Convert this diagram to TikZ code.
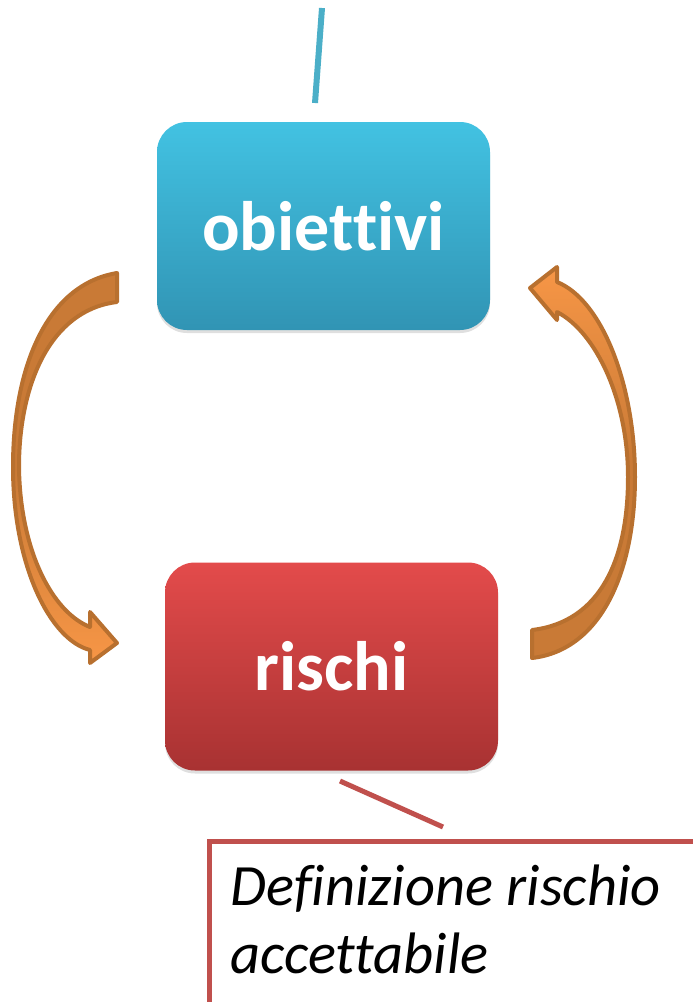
\documentclass[tikz,border=0pt]{standalone}
\usepackage{fontspec}
\setmainfont{Carlito}[Ligatures={NoCommon}]
\usetikzlibrary{shadows}
\definecolor{bluetop}{HTML}{42C2E2}
\definecolor{bluebot}{HTML}{3194B4}
\definecolor{redtop}{HTML}{E34B4B}
\definecolor{redbot}{HTML}{A83232}
\definecolor{linkblue}{HTML}{4BAFC8}
\definecolor{linkred}{HTML}{C0504D}
\definecolor{arrdark}{HTML}{C97A36}
\definecolor{arrlight}{HTML}{F79646}
\definecolor{arredge}{HTML}{B8702F}
\tikzset{
  mainbox/.style={rounded corners=30pt, minimum width=333pt, minimum height=208pt,
    text=white, font=\fontsize{70}{80}\selectfont\bfseries, inner sep=0pt,
    drop shadow={shadow xshift=0pt, shadow yshift=-3pt, opacity=0.25}},
  bluebox/.style={mainbox, top color=bluetop, bottom color=bluebot},
  redbox/.style={mainbox, top color=redtop, bottom color=redbot},
  calloutbox/.style={draw=linkred, line width=5pt, fill=white, minimum width=520pt, minimum height=200pt, inner sep=0pt},
  callouttext/.style={font=\fontsize{58.5}{66}\selectfont\itshape, inner sep=0pt, text=black},
  linkline/.style={line width=6pt},
  blockarrow/.style={draw=arredge, line width=4pt, line join=round}
}
\begin{document}
\begin{tikzpicture}[x=1pt,y=-1pt]
\useasboundingbox (0,0) rectangle (693,1002);
\clip (0,0) rectangle (693,1002);
% boxes
\node[bluebox] (obj) at (323.5,226) {obiettivi};
\node[redbox] (ris) at (331.5,666.5) {rischi};
% callout
\node[calloutbox, anchor=north west] (callout) at (207,839) {};
\node[callouttext, anchor=base west] (cl1) at (230,905) {Definizione rischio};
\node[callouttext, anchor=base west] (cl2) at (230,973) {accettabile};
% link lines
\coordinate (bt) at (322,8);
\coordinate (bb) at (315,103);
\draw[linkline, draw=linkblue] (bt) -- (bb);
\coordinate (rt) at (340,781);
\coordinate (rb) at (443,827);
\draw[linkline, line width=5pt, draw=linkred] (rt) -- (rb);
% left arrow
\path[blockarrow, top color=arrdark, bottom color=arrlight, middle color=arrdark]
 (117,273) .. controls (45,285) and (13,370) .. (13,467)
 .. controls (13,565) and (50,640) .. (90,650)
 -- (90,663) -- (117,643) -- (90,612) -- (90,627)
 .. controls (52,612) and (20,550) .. (19,467)
 .. controls (19,385) and (50,310) .. (117,302) -- cycle;
% right arrow
\path[blockarrow, top color=arrlight, bottom color=arrdark, middle color=arrdark]
 (532,658) .. controls (602,650) and (635,570) .. (635,477)
 .. controls (635,385) and (602,300) .. (557,282)
 -- (557,267) -- (530,288) -- (557,320) -- (557,312)
 .. controls (596,332) and (628,400) .. (628,477)
 .. controls (628,560) and (600,622) .. (532,630) -- cycle;
\end{tikzpicture}
\end{document}
